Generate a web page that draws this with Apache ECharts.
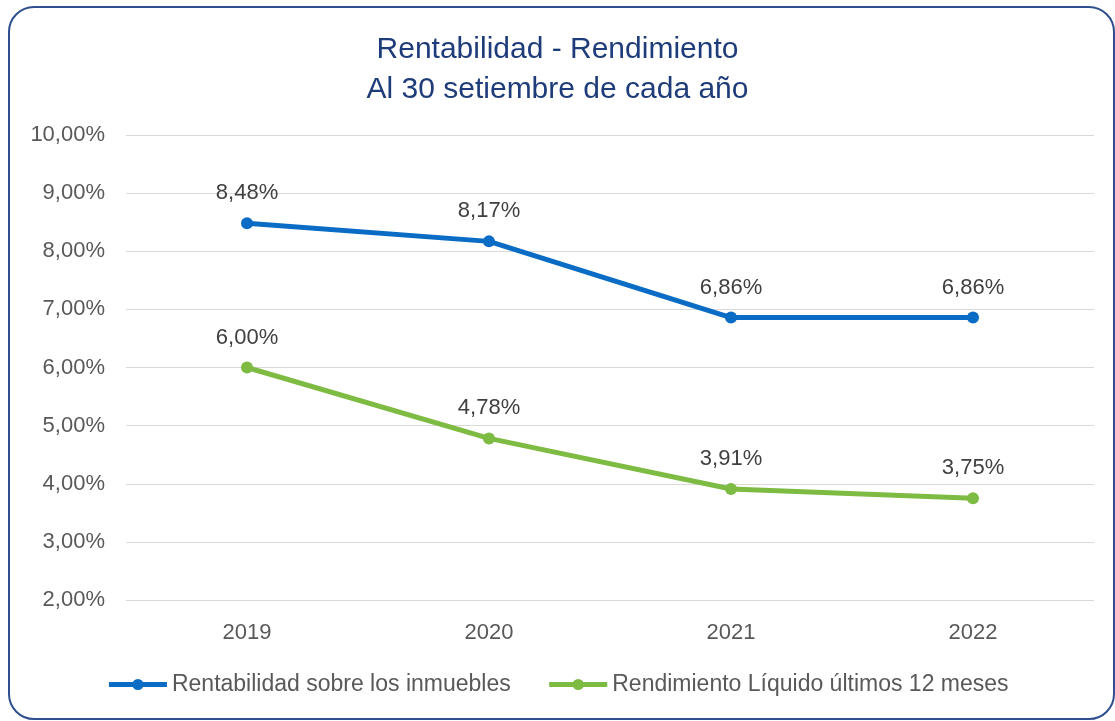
<!DOCTYPE html>
<html lang="es">
<head>
<meta charset="UTF-8">
<title>Rentabilidad - Rendimiento</title>
<script src="https://cdn.jsdelivr.net/npm/echarts@6.0.0/dist/echarts.min.js"></script>
</head>
<body style="margin:0;background:#fff">
<div id="box" style="position:absolute;left:8px;top:6px;width:1103px;height:710px;border:2px solid #2F4F8F;border-radius:26px;background:#fff"></div>
<div id="container" style="position:absolute;left:0;top:0;width:1115px;height:721px"></div>
<script type="text/javascript">
var years = ['2019', '2020', '2021', '2022'];
var rentabilidad = [8.48, 8.17, 6.86, 6.86];
var rendimiento = [6.00, 4.78, 3.91, 3.75];
var seriesNames = ['Rentabilidad sobre los inmuebles', 'Rendimiento Líquido últimos 12 meses'];

var font = 'Liberation Sans, Arial, sans-serif';
function pct(v) { return v.toFixed(2).replace('.', ',') + '%'; }

var chart = echarts.init(document.getElementById('container'));
var option = {
    animation: false,
    textStyle: { fontFamily: font },
    title: {
        text: 'Rentabilidad - Rendimiento\nAl 30 setiembre de cada año',
        left: 'center',
        top: 25,
        textStyle: { fontFamily: font, fontSize: 30, fontWeight: 'normal', color: '#1F3C7A', lineHeight: 40 }
    },
    legend: {
        bottom: 20,
        left: 'center',
        itemWidth: 58,
        itemHeight: 14,
        itemGap: 36,
        lineStyle: { width: 5 },
        textStyle: { fontFamily: font, fontSize: 23, color: '#595959' },
        data: seriesNames
    },
    grid: { left: 126, right: 21, top: 135, bottom: 121, containLabel: false },
    xAxis: {
        type: 'category',
        data: years,
        boundaryGap: true,
        axisLine: { show: false },
        axisTick: { show: false },
        axisLabel: { fontFamily: font, fontSize: 22, color: '#595959', margin: 22 }
    },
    yAxis: {
        type: 'value',
        min: 2,
        max: 10,
        interval: 1,
        axisLine: { show: false },
        axisTick: { show: false },
        splitLine: { lineStyle: { color: '#D9D9D9', width: 1 } },
        axisLabel: { fontFamily: font, fontSize: 22, color: '#595959', margin: 21, formatter: pct }
    },
    series: [
        {
            name: seriesNames[0],
            type: 'line',
            data: rentabilidad,
            symbol: 'circle',
            symbolSize: 12,
            lineStyle: { width: 5, color: '#0A6CC4' },
            itemStyle: { color: '#0A6CC4' },
            label: { show: true, position: 'top', distance: 13, fontFamily: font, fontSize: 22, color: '#404040',
                formatter: function (p) { return pct(p.value); } }
        },
        {
            name: seriesNames[1],
            type: 'line',
            data: rendimiento,
            symbol: 'circle',
            symbolSize: 12,
            lineStyle: { width: 5, color: '#7DBB42' },
            itemStyle: { color: '#7DBB42' },
            label: { show: true, position: 'top', distance: 13, fontFamily: font, fontSize: 22, color: '#404040',
                formatter: function (p) { return pct(p.value); } }
        }
    ]
};
chart.setOption(option);
</script>
</body>
</html>
